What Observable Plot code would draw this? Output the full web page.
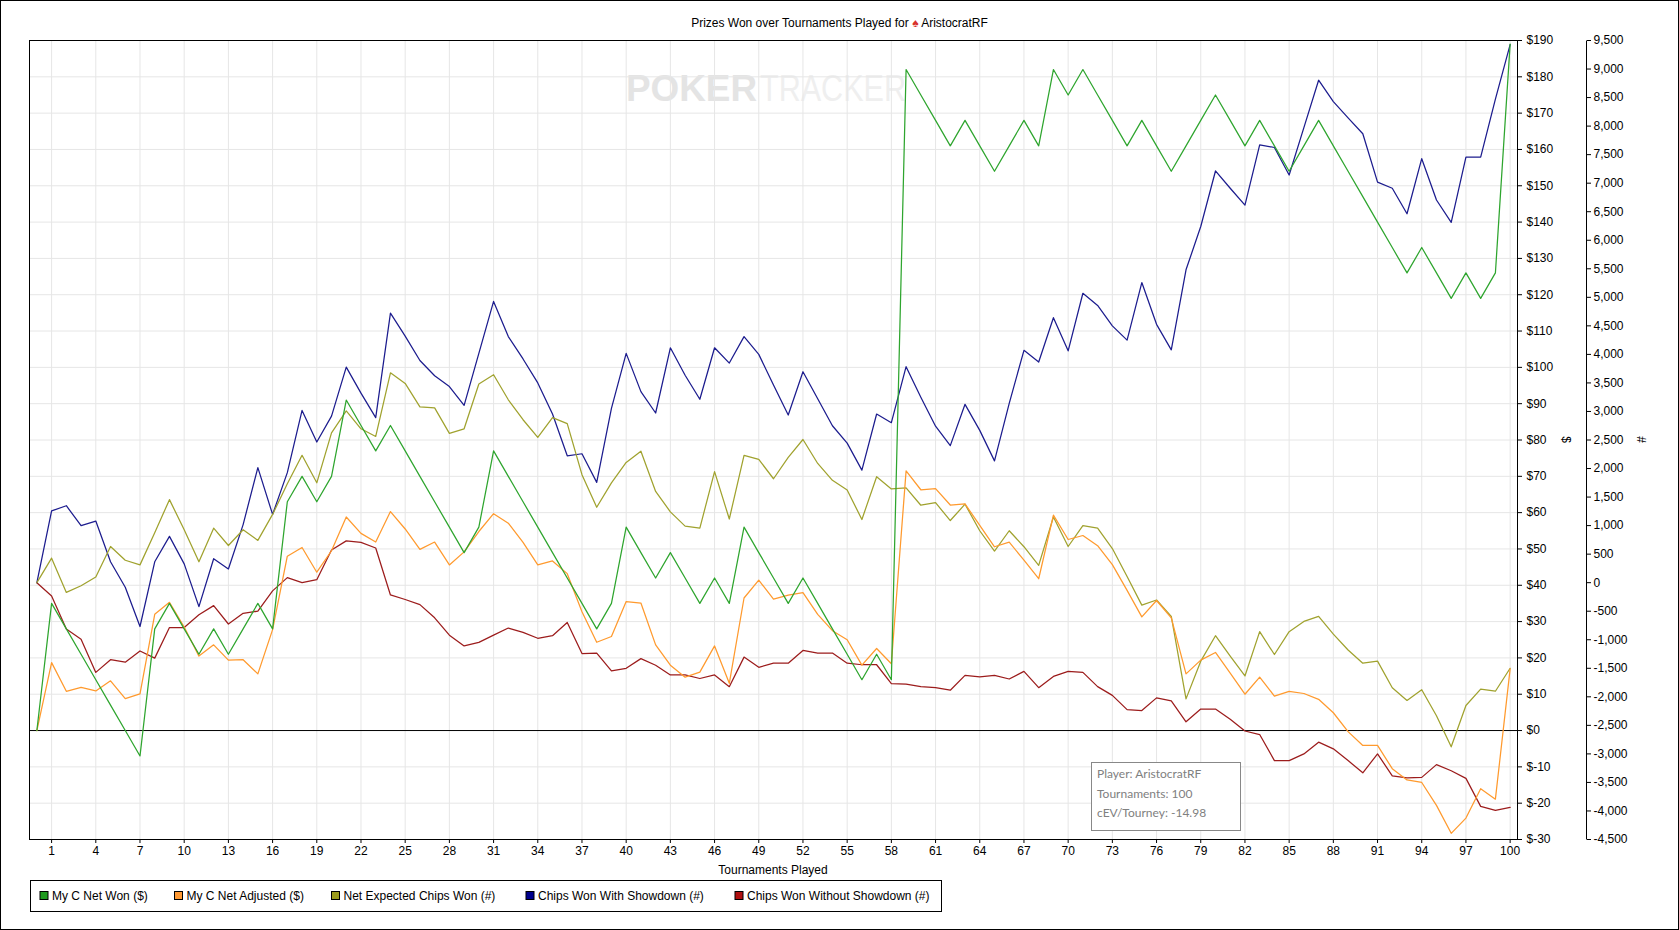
<!DOCTYPE html>
<html><head><meta charset="utf-8">
<script src="https://cdn.jsdelivr.net/npm/d3@7"></script>
<script src="https://cdn.jsdelivr.net/npm/@observablehq/plot@0.6"></script>
<style>
html,body{margin:0;padding:0;background:#fff;overflow:hidden}
#chart svg{display:block}
</style></head><body><div id="chart"></div>
<script>
// ---------- data ----------
const tournaments = d3.range(0, 101);
const netWon = [0,35,28,21,14,7,0,-7,28,35,28,21,28,21,28,35,28,63,70,63,70,91,84,77,84,77,70,63,56,49,56,77,70,63,56,49,42,35,28,35,56,49,42,49,42,35,42,35,56,49,42,35,42,35,28,21,14,21,14,182,175,168,161,168,161,154,161,168,161,182,175,182,175,168,161,168,161,154,161,168,175,168,161,168,161,154,161,168,161,154,147,140,133,126,133,126,119,126,119,126,189];
const netAdjusted = [0,18.7,10.8,11.9,10.9,13.7,8.8,10.1,32,35.3,28.5,20.5,23.6,19.4,19.5,15.6,27.8,48,50.4,43.6,49.5,58.8,54.3,51.9,60.3,55.5,49.9,51.9,45.6,49.2,54.8,59.7,57.1,51.8,45.6,46.7,43.2,32.7,24.3,25.9,35.5,35.1,23.6,18,14.7,16.1,23.3,13,36.5,41.4,36.2,37.3,38,32,27.5,25,18,22.6,18.4,71.5,66.3,66.6,62.1,62.4,56.5,50.6,51.9,46.9,41.8,59.3,52.6,53.7,50.9,45.7,38.6,31.3,35.8,31,15.6,19.4,21.5,15.8,10,14.7,9.5,10.8,10.2,8.6,4.9,-0.3,-4.1,-4.1,-10.5,-13.6,-14.3,-20.6,-28.3,-24.1,-16,-18.9,17];
const expectedChips = [0,430,-170,-54,98,634,393,312,875,1455,928,366,955,651,928,741,1196,1732,2232,1750,2625,3009,2696,2562,3678,3491,3080,3062,2616,2696,3482,3643,3205,2855,2545,2892,2786,1893,1321,1750,2107,2303,1598,1241,991,955,1946,1116,2232,2160,1821,2196,2509,2089,1794,1625,1107,1857,1643,1660,1357,1401,1089,1375,910,553,910,630,303,1151,634,1000,955,598,107,-393,-304,-590,-2036,-1375,-929,-1286,-1634,-858,-1259,-858,-679,-590,-902,-1179,-1411,-1375,-1840,-2063,-1875,-2331,-2876,-2152,-1866,-1902,-1500];
const chipsShowdown = [0,1258,1348,1000,1080,366,-80,-768,366,812,330,-420,420,240,1018,2017,1196,1928,3018,2464,2919,3777,3321,2892,4723,4321,3893,3625,3437,3107,4018,4928,4312,3920,3500,2955,2223,2259,1758,3053,4018,3348,2973,4116,3634,3214,4116,3848,4312,4000,3464,2937,3696,3223,2750,2446,1973,2955,2803,3785,3250,2741,2401,3125,2669,2134,3143,4071,3866,4643,4062,5071,4857,4500,4250,5259,4527,4080,5482,6241,7214,6911,6616,7670,7625,7143,7973,8804,8429,8143,7866,7018,6911,6464,7429,6705,6312,7455,7455,8473,9429];
const chipsNoShowdown = [0,-233,-813,-992,-1572,-1349,-1393,-1197,-1322,-786,-786,-563,-402,-724,-536,-500,-143,89,0,53,571,732,705,607,-215,-295,-384,-616,-920,-1108,-1045,-920,-795,-870,-974,-929,-697,-1242,-1233,-1545,-1500,-1331,-1447,-1617,-1617,-1679,-1617,-1822,-1304,-1483,-1411,-1411,-1188,-1233,-1233,-1411,-1438,-1438,-1768,-1777,-1822,-1840,-1884,-1625,-1652,-1625,-1688,-1554,-1840,-1643,-1554,-1572,-1822,-1974,-2224,-2241,-2018,-2072,-2438,-2215,-2215,-2393,-2599,-2661,-3117,-3117,-3000,-2795,-2911,-3117,-3331,-3000,-3384,-3420,-3411,-3188,-3295,-3429,-3920,-3991,-3938];

const xTicks = [1,4,7,10,13,16,19,22,25,28,31,34,37,40,43,46,49,52,55,58,61,64,67,70,73,76,79,82,85,88,91,94,97,100];
const dollarTicks = [-30,-20,-10,0,10,20,30,40,50,60,70,80,90,100,110,120,130,140,150,160,170,180,190];
const chipTicks = [-4500,-4000,-3500,-3000,-2500,-2000,-1500,-1000,-500,0,500,1000,1500,2000,2500,3000,3500,4000,4500,5000,5500,6000,6500,7000,7500,8000,8500,9000,9500];
const seriesNames = ["My C Net Won ($)","My C Net Adjusted ($)","Net Expected Chips Won (#)","Chips Won With Showdown (#)","Chips Won Without Showdown (#)"];
const seriesColors = ["#2ea52e","#ff9a2e","#a0a22e","#1c1c8e","#9c1c1c"];
const swatchColors = ["#1f9a1f","#ff9933","#9c9c1c","#00008c","#b01010"];
const titleStart = "Prizes Won over Tournaments Played for ";
const titleIcon = "\u2660";
const titleEnd = " AristocratRF";
const infoLines = ["Player: AristocratRF","Tournaments: 100","cEV/Tourney: -14.98"];

// ---------- scales helpers ----------
const dLo = -30, dHi = 190, cLo = -4500, cHi = 9500;
const c2d = c => dLo + (c - cLo) * (dHi - dLo) / (cHi - cLo);
const d2c = d => Math.round(cLo + (d - dLo) * (cHi - cLo) / (dHi - dLo));
const fmtChips = c => (c < 0 ? "-" : "") + d3.format(",")(Math.abs(c));

const seriesVals = [netWon, netAdjusted, expectedChips, chipsShowdown, chipsNoShowdown];
const isChips = [false, false, true, true, true];
const rows = seriesVals.map((vals, s) => tournaments.map((t, i) => ({t, v: isChips[s] ? c2d(vals[i]) : vals[i]})));

const W = 1679, H = 930;
const FONT = "'Liberation Sans', Arial, sans-serif";
const drawOrder = [4, 3, 2, 1, 0];

const plot = Plot.plot({
  width: W, height: H,
  marginLeft: 29, marginRight: 162, marginTop: 40, marginBottom: 91,
  style: {fontFamily: FONT, fontSize: "12px", color: "#000", background: "#fff", maxWidth: "none"},
  x: {domain: [-0.5, 100.5]},
  y: {domain: [dLo, dHi]},
  marks: [
    Plot.gridX(xTicks, {stroke: "#e6e6e6", strokeOpacity: 1}),
    Plot.gridY(dollarTicks, {stroke: "#e6e6e6", strokeOpacity: 1}),
    Plot.ruleY([0], {stroke: "#000", strokeWidth: 1}),
    ...drawOrder.map(s => Plot.line(rows[s], {x: "t", y: "v", stroke: seriesColors[s], strokeWidth: 1.25})),
    Plot.frame({stroke: "#000"}),
    Plot.axisX(xTicks, {tickSize: 4, tickPadding: 3, label: null, fontSize: 12}),
    Plot.axisY(dollarTicks, {anchor: "right", tickSize: 4, tickPadding: 5, tickFormat: d => "$" + d, label: null, fontSize: 12}),
    Plot.axisY(chipTicks.map(c2d), {anchor: "right", dx: 69, tickSize: 4, tickPadding: 3, tickFormat: d => fmtChips(d2c(d)), label: null, fontSize: 12})
  ]
});
document.getElementById("chart").appendChild(plot);

// ---------- decorations ----------
const svg = d3.select(plot);
const xs = plot.scale("x"), ys = plot.scale("y");
const fL = xs.apply(-0.5), fR = xs.apply(100.5), fT = ys.apply(dHi), fB = ys.apply(dLo);
const midY = (fT + fB) / 2, midX = (fL + fR) / 2;

// watermark behind everything
const wm = svg.insert("g", ":first-child").attr("font-family", "'Liberation Sans', Arial, sans-serif").attr("text-anchor", "start");
wm.append("text").attr("x", 626).attr("y", 101).attr("font-size", 37).attr("font-weight", "bold")
  .attr("fill", "#e4e4e4").attr("textLength", 131).attr("lengthAdjust", "spacingAndGlyphs").text("POKER");
wm.append("text").attr("x", 760).attr("y", 101).attr("font-size", 36)
  .attr("fill", "#efefef").attr("textLength", 146).attr("lengthAdjust", "spacingAndGlyphs").text("TRACKER");
svg.insert("rect", ":first-child").attr("x", 0).attr("y", 0).attr("width", W).attr("height", H).attr("fill", "#fff");

// second axis line
const ax2 = fR + 69 + 0.5;
svg.append("line").attr("x1", ax2).attr("x2", ax2).attr("y1", fT + 0.5).attr("y2", fB + 0.5).attr("stroke", "#000");

const deco = svg.append("g").attr("font-family", FONT).attr("font-size", 12).attr("fill", "#000");
// axis labels
deco.append("text").attr("text-anchor", "middle").attr("x", midX).attr("y", 874).text("Tournaments Played");
deco.append("text").attr("text-anchor", "middle").attr("dy", "0.35em")
  .attr("transform", `translate(${fR + 49.5},${midY}) rotate(90)`).text("$");
deco.append("text").attr("text-anchor", "middle").attr("dy", "0.35em")
  .attr("transform", `translate(${fR + 124},${midY}) rotate(90)`).text("#");
// title
const tt = deco.append("text").attr("text-anchor", "middle").attr("x", W / 2).attr("y", 27);
tt.append("tspan").text(titleStart);
tt.append("tspan").attr("fill", "#d8322a").text(titleIcon);
tt.append("tspan").text(titleEnd);

// legend
const lg = svg.append("g").attr("font-family", FONT).attr("font-size", 12).attr("text-anchor", "start");
lg.append("rect").attr("x", 30.5).attr("y", 880.5).attr("width", 911).attr("height", 31).attr("fill", "#fff").attr("stroke", "#000");
const legendX = [39.5, 174, 331, 525.5, 734.5];
seriesNames.forEach((name, s) => {
  lg.append("rect").attr("x", legendX[s] + 0.5).attr("y", 891.5).attr("width", 8).attr("height", 8)
    .attr("fill", swatchColors[s]).attr("stroke", "#000");
  lg.append("text").attr("x", legendX[s] + 12.5).attr("y", 900).attr("fill", "#000").text(name);
});

// info box
const ib = svg.append("g").attr("font-family", "Lato, 'Open Sans', sans-serif").attr("font-size", 12).attr("text-anchor", "start");
ib.append("rect").attr("x", 1091.5).attr("y", 762.5).attr("width", 149).attr("height", 68)
  .attr("fill", "#fff").attr("stroke", "#888");
infoLines.forEach((line, i) => {
  ib.append("text").attr("x", 1097).attr("y", 778 + i * 19.5).attr("fill", "#808080").text(line);
});

// outer border
svg.append("rect").attr("x", 0.5).attr("y", 0.5).attr("width", W - 1).attr("height", H - 1)
  .attr("fill", "none").attr("stroke", "#000");
</script></body></html>
